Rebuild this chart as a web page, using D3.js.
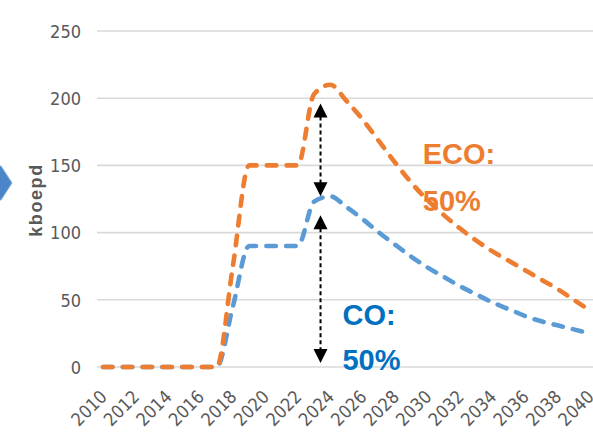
<!DOCTYPE html>
<html>
<head>
<meta charset="utf-8">
<script src="https://cdn.jsdelivr.net/npm/d3@7"></script>
<style>
  html, body { margin: 0; padding: 0; background: #fff; }
  svg { display: block; }
</style>
</head>
<body>
<svg id="chart" width="593" height="432"></svg>
<script>
// ---- data ----
const years = d3.range(2010, 2041);
const ecoValues = [0,0,0,0,0,0,0,0,75,150,150,150,150,203,210,198,184,168,152,137,124,113,103,94,86,79,72,65,58,50,42];
const coValues  = [0,0,0,0,0,0,0,0,45,90,90,90,90,123,127,119,110,100,91,82,74,67,60,54,48,43,38,34,31,28,25];
const yTicks = [0, 50, 100, 150, 200, 250];
const xTickYears = d3.range(2010, 2041, 2);
const yTitle = "kboepd";
// annotation arrows [year, fromValue, toValue]
const arrows = [[2023.4, 196, 127], [2023.4, 113, 3]];
const labels = [
  {lines: ["ECO:", "50%"], year: 2029.7, value: 151, color: "#ED7D31", gap: 47},
  {lines: ["CO:", "50%"], year: 2024.75, value: 31, color: "#0070C0", gap: 45}
];

const svg = d3.select("#chart");
const x = d3.scaleLinear().domain([2010, 2040]).range([103, 590]);
const y = d3.scaleLinear().domain([0, 250]).range([367, 31]);
const font = "'Liberation Sans Narrow','DejaVu Sans Condensed','Liberation Sans',Arial,sans-serif";

// left chevron shape
svg.append("path")
  .attr("d", "M-2,166 L1,166 L12,183 L1,200 L-2,200 Z")
  .attr("fill", "#4a86c8").attr("stroke", "#7fb0e0").attr("stroke-width", 1);

// gridlines
svg.append("g").selectAll("line").data(yTicks).join("line")
  .attr("x1", 97).attr("x2", 593)
  .attr("y1", d => y(d)).attr("y2", d => y(d))
  .attr("stroke", "#d9d9d9").attr("stroke-width", 1.6);

// y axis labels
const yAxis = d3.axisLeft(y).tickValues(yTicks).tickSize(0).tickPadding(0);
const gy = svg.append("g").attr("transform", "translate(81,0)").call(yAxis);
gy.select(".domain").remove();
gy.selectAll("text").attr("font-family", font).attr("font-size", 18)
  .attr("fill", "#595959").attr("dy", "0.35em");

// x axis labels
const xAxis = d3.axisBottom(x).tickValues(xTickYears).tickFormat(d3.format("d")).tickSize(0).tickPadding(0);
const gx = svg.append("g").call(xAxis);
gx.select(".domain").remove();
gx.selectAll(".tick").attr("transform", d => `translate(${x(d) + 5},398)`);
gx.selectAll("text").attr("font-family", font).attr("font-size", 18)
  .attr("fill", "#595959").attr("y", 0).attr("dy", 0)
  .attr("text-anchor", "end").attr("transform", "rotate(-45)");

// y title
svg.append("text")
  .attr("transform", "translate(42,200) rotate(-90)")
  .attr("text-anchor", "middle")
  .attr("font-family", "'Liberation Sans',Arial,sans-serif")
  .attr("font-weight", "bold").attr("font-size", 18).attr("letter-spacing", 1.6)
  .attr("fill", "#595959").text(yTitle);

// lines
const line = d3.line().x((d, i) => x(years[i])).y(d => y(d)).curve(d3.curveMonotoneX);
[[coValues, "#5B9BD5"], [ecoValues, "#ED7D31"]].forEach(([vals, col]) => {
  svg.append("path").datum(vals).attr("d", line)
    .attr("fill", "none").attr("stroke", col).attr("stroke-width", 4.6)
    .attr("stroke-dasharray", "9.5,10.3").attr("stroke-linecap", "round");
});

// arrows
const ag = svg.append("g");
arrows.forEach(([yr, v1, v2]) => {
  const ax = x(yr), ya = y(v1), yb = y(v2);
  const hl = 14, hw = 7;
  ag.append("line").attr("x1", ax).attr("x2", ax).attr("y1", ya + hl - 1).attr("y2", yb - hl + 1)
    .attr("stroke", "#000").attr("stroke-width", 2).attr("stroke-dasharray", "4,3");
  ag.append("path").attr("d", `M${ax},${ya} L${ax - hw},${ya + hl} L${ax + hw},${ya + hl} Z`).attr("fill", "#000");
  ag.append("path").attr("d", `M${ax},${yb} L${ax - hw},${yb - hl} L${ax + hw},${yb - hl} Z`).attr("fill", "#000");
});

// text labels
labels.forEach(l => {
  const t = svg.append("text").attr("font-family", "'Liberation Sans',Arial,sans-serif")
    .attr("font-weight", "bold").attr("font-size", 29).attr("fill", l.color);
  l.lines.forEach((s, i) => {
    t.append("tspan").attr("x", x(l.year)).attr("y", y(l.value) + i * l.gap).text(s);
  });
});
</script>
</body>
</html>
